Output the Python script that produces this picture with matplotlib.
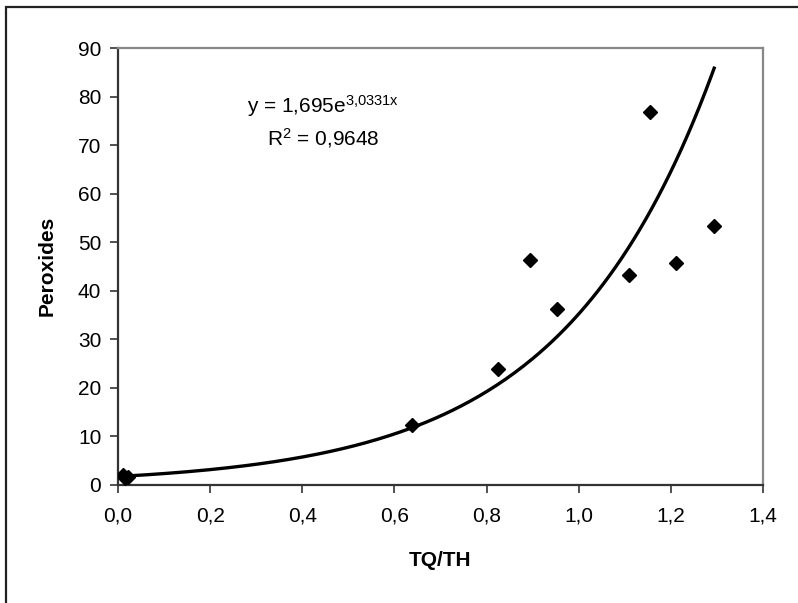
import numpy as np
import matplotlib
matplotlib.use("Agg")
import matplotlib.pyplot as plt
from matplotlib.patches import Rectangle
from matplotlib.ticker import FuncFormatter

plt.rcParams['font.family'] = ['Liberation Sans', 'DejaVu Sans']
plt.rcParams['mathtext.fontset'] = 'custom'
plt.rcParams['mathtext.rm'] = 'Liberation Sans'
plt.rcParams['mathtext.it'] = 'Liberation Sans'

# Data
tq_th = [0.010, 0.016, 0.022, 0.638, 0.824, 0.894, 0.953, 1.110, 1.155, 1.211, 1.294]
peroxides = [1.9, 1.3, 1.6, 12.4, 23.8, 46.4, 36.2, 43.2, 76.9, 45.6, 53.4]

# Exponential trendline parameters (as printed on chart)
fit_a = 1.695
fit_b = 3.0331
r2 = 0.9648

x_ticks = [0.0, 0.2, 0.4, 0.6, 0.8, 1.0, 1.2, 1.4]
y_ticks = [0, 10, 20, 30, 40, 50, 60, 70, 80, 90]

W, H = 798, 603
fig = plt.figure(figsize=(W / 100, H / 100), dpi=100)

# outer chart border (right and bottom fall outside the picture)
fig.patches.append(Rectangle((6 / W, -0.05), 1.2, (1 - 7 / H) + 0.05,
                             transform=fig.transFigure, fill=False,
                             edgecolor='#222222', linewidth=1.6))

ax = fig.add_axes([118 / W, 1 - 484.7 / H, (763 - 118) / W, (484.7 - 48) / H])
ax.set_xlim(0, 1.4)
ax.set_ylim(0, 90)

xs = np.linspace(min(tq_th), max(tq_th), 200)
ax.plot(xs, fit_a * np.exp(fit_b * xs), color='black', linewidth=2.4, zorder=2)
ax.plot(tq_th, peroxides, linestyle='none', marker='D', markersize=7,
        color='black', zorder=3)

ax.set_xticks(x_ticks)
ax.set_yticks(y_ticks)
ax.xaxis.set_major_formatter(FuncFormatter(lambda v, p: f"{v:.1f}".replace('.', ',')))
ax.yaxis.set_major_formatter(FuncFormatter(lambda v, p: f"{v:.0f}"))
ax.tick_params(axis='both', direction='out', length=6, width=1.2,
               labelsize=15, color='#333333', pad=6)
ax.tick_params(axis='x', pad=10)

for s in ['left', 'bottom']:
    ax.spines[s].set_color('#333333')
    ax.spines[s].set_linewidth(1.6)
for s in ['top', 'right']:
    ax.spines[s].set_color('#888888')
    ax.spines[s].set_linewidth(1.6)

fig.text(440 / W, 1 - 560 / H, 'TQ/TH', ha='center', va='center',
         fontsize=15, fontweight='bold')
fig.text(47 / W, 1 - 266 / H, 'Peroxides', ha='center', va='center',
         fontsize=15, fontweight='bold', rotation=90)

a_txt = f"{fit_a:.3f}".replace('.', ',')
b_txt = f"{fit_b:.4f}".replace('.', '{,}')
r_txt = f"{r2:.4f}".replace('.', ',')
fig.text(323 / W, 1 - 106 / H, 'y = ' + a_txt + r'e$^{\mathregular{' + b_txt + r'x}}$',
         ha='center', va='center', fontsize=15)
fig.text(323 / W, 1 - 138 / H, r'R$^{\mathregular{2}}$ = ' + r_txt,
         ha='center', va='center', fontsize=15)

fig.savefig('out.png', dpi=100)
